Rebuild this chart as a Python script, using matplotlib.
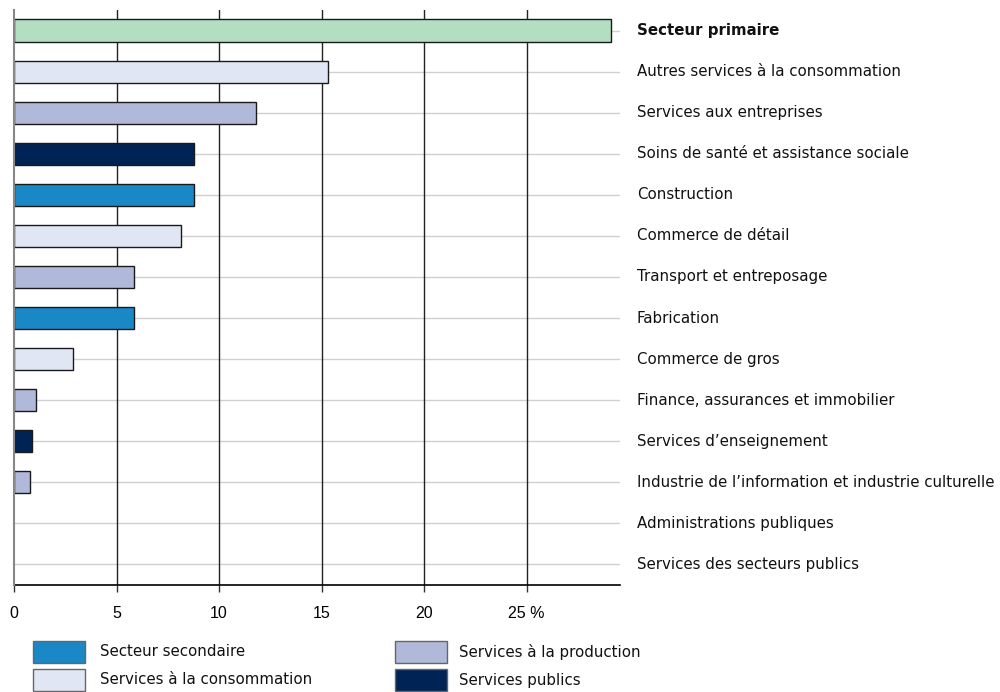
import matplotlib
matplotlib.use("Agg")
import matplotlib.pyplot as plt
from matplotlib.patches import Rectangle

categories = [
    "Secteur primaire",
    "Autres services à la consommation",
    "Services aux entreprises",
    "Soins de santé et assistance sociale",
    "Construction",
    "Commerce de détail",
    "Transport et entreposage",
    "Fabrication",
    "Commerce de gros",
    "Finance, assurances et immobilier",
    "Services d’enseignement",
    "Industrie de l’information et industrie culturelle",
    "Administrations publiques",
    "Services des secteurs publics",
]
values = [29.1, 15.3, 11.8, 8.8, 8.8, 8.15, 5.85, 5.85, 2.9, 1.07, 0.9, 0.8, 0.0, 0.0]
groups = ["prim", "cons", "prod", "pub", "sec", "cons", "prod", "sec", "cons", "prod", "pub", "prod", "pub", "pub"]

group_colors = {
    "prim": "#b3dec1",
    "sec": "#1a87c6",
    "prod": "#b0b9d9",
    "cons": "#e0e6f3",
    "pub": "#002355",
}
legend_items = [
    ("sec", "Secteur secondaire"),
    ("prod", "Services à la production"),
    ("cons", "Services à la consommation"),
    ("pub", "Services publics"),
]
xticks = [0, 5, 10, 15, 20, 25]
xticklabels = ["0", "5", "10", "15", "20", "25 %"]

plt.rcParams["font.family"] = ["DejaVu Sans"]

fig = plt.figure(figsize=(10, 6.92), dpi=100)
ax = fig.add_axes([0.014, 1 - 585 / 692, 0.606, (585 - 10) / 692])

n = len(categories)
ypos = list(range(n))
ax.barh(ypos, values, height=0.54, color=[group_colors[g] for g in groups],
        edgecolor="#1a1a1a", linewidth=[1.0 if v > 0 else 0 for v in values], zorder=3)

ax.set_ylim(n - 0.5, -0.5)
ax.set_xlim(0, 29.55)

for y in ypos:
    ax.axhline(y, color="#d0d0d0", lw=1.0, zorder=1)
for x in xticks[1:]:
    ax.axvline(x, color="#222222", lw=1.0, zorder=2)

for s in ["top", "right"]:
    ax.spines[s].set_visible(False)
ax.spines["left"].set_color("#888888")
ax.spines["left"].set_linewidth(1.5)
ax.spines["left"].set_zorder(4)
ax.spines["bottom"].set_color("#000000")
ax.spines["bottom"].set_linewidth(1.2)

ax.set_yticks([])
ax.set_xticks(xticks)
ax.set_xticklabels(xticklabels, fontfamily="Liberation Sans", fontsize=11.5)
ax.tick_params(axis="x", direction="out", length=5, width=1, color="#333333", pad=10)

for y, cat in zip(ypos, categories):
    ax.text(1.028, y, cat, transform=ax.get_yaxis_transform(), va="center", ha="left",
            fontsize=10.8, fontweight="bold" if y == 0 else "normal", color="#111111")

# Legend
legend_pos = [(33, 652, 100), (395, 652, 459), (33, 680, 100), (395, 680, 459)]
for (g, lab), (px, py, tx) in zip(legend_items, legend_pos):
    fig.patches.append(Rectangle((px / 1000, 1 - (py + 11) / 692), 52 / 1000, 22 / 692,
                                 transform=fig.transFigure, facecolor=group_colors[g],
                                 edgecolor="#666666", linewidth=1.0))
    fig.text(tx / 1000, 1 - py / 692, lab, va="center", ha="left", fontsize=10.8, color="#111111")

fig.savefig("out.png", dpi=100)
